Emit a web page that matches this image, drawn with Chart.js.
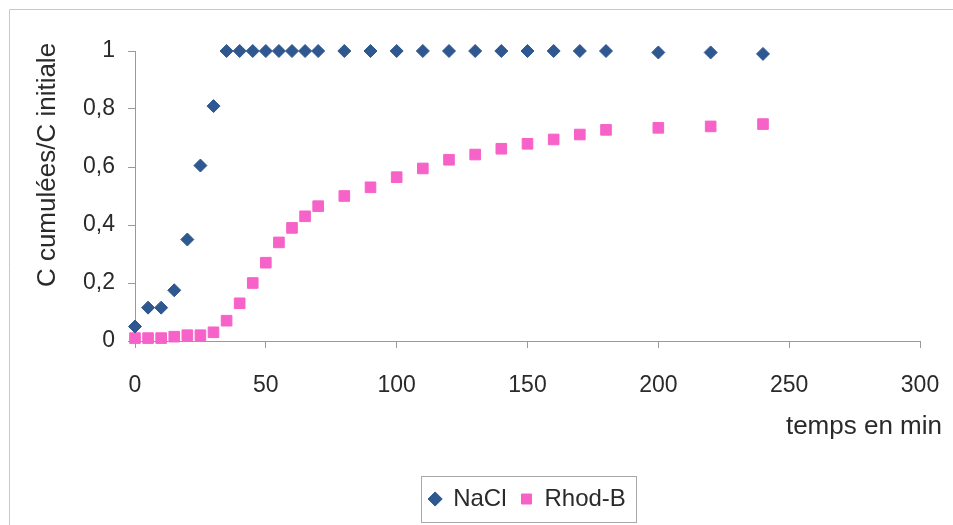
<!DOCTYPE html>
<html>
<head>
<meta charset="utf-8">
<script src="https://cdn.jsdelivr.net/npm/chart.js@4"></script>
<style>
    body { margin: 0; background: #fff; }
    #wrap { width: 953px; height: 525px; position: relative; }
</style>
</head>
<body>
<div id="wrap"><canvas id="chart" width="953" height="525"></canvas></div>
<script>
// temps en min
const tempsNaCl = [0, 5, 10, 15, 20, 25, 30, 35, 40, 45, 50, 55, 60, 65, 70, 80, 90, 100, 110, 120, 130, 140, 150, 160, 170, 180, 200, 220, 240];
const valeursNaCl = [0.05, 0.115, 0.115, 0.175, 0.35, 0.605, 0.81, 1, 1, 1, 1, 1, 1, 1, 1, 1, 1, 1, 1, 1, 1, 1, 1, 1, 1, 1, 0.995, 0.995, 0.99];
const tempsRhod = [0, 5, 10, 15, 20, 25, 30, 35, 40, 45, 50, 55, 60, 65, 70, 80, 90, 100, 110, 120, 130, 140, 150, 160, 170, 180, 200, 220, 240];
const valeursRhod = [0.01, 0.01, 0.01, 0.015, 0.02, 0.02, 0.03, 0.07, 0.13, 0.2, 0.27, 0.34, 0.39, 0.43, 0.465, 0.5, 0.53, 0.565, 0.595, 0.625, 0.643, 0.663, 0.68, 0.695, 0.712, 0.728, 0.735, 0.74, 0.748];
const xTicks = [0, 50, 100, 150, 200, 250, 300];
const yTicks = [0, 0.2, 0.4, 0.6, 0.8, 1];

const police = "'Liberation Sans', Arial, sans-serif";
const couleurTexte = '#2a2a2a';

function points(xs, ys) {
    let pts = [];
    for (let i = 0; i < xs.length; i++)
        pts.push({x: xs[i], y: ys[i]});
    return pts;
}

const habillage = {
    id: 'habillage',
    afterDraw(chart) {
        const ctx = chart.ctx;
        ctx.save();
        // cadre du graphique
        ctx.strokeStyle = '#c8c8c8';
        ctx.lineWidth = 1;
        ctx.beginPath();
        ctx.moveTo(9.5, 525);
        ctx.lineTo(9.5, 9.5);
        ctx.lineTo(953, 9.5);
        ctx.stroke();
        // titres des axes
        ctx.fillStyle = couleurTexte;
        ctx.font = '26px ' + police;
        ctx.textAlign = 'right';
        ctx.textBaseline = 'middle';
        ctx.fillText('temps en min', 942, 427);
        ctx.translate(48, 165);
        ctx.rotate(-Math.PI / 2);
        ctx.textAlign = 'center';
        ctx.fillText('C cumulées/C initiale', 0, 0);
        ctx.restore();
        // cadre de la légende
        const boxes = chart.legend.legendHitBoxes;
        if (boxes && boxes.length) {
            let l = Infinity, r = -Infinity, t = Infinity, b = -Infinity;
            boxes.forEach(h => {
                l = Math.min(l, h.left); r = Math.max(r, h.left + h.width);
                t = Math.min(t, h.top); b = Math.max(b, h.top + h.height);
            });
            ctx.save();
            ctx.strokeStyle = '#a8a8a8';
            ctx.lineWidth = 1;
            ctx.strokeRect(Math.round(l - 8) + 0.5, Math.round(t - 11) + 0.5, Math.round(r - l + 18), Math.round(b - t + 22));
            ctx.restore();
        }
    }
};

const data = {
    datasets: [{
            label: 'NaCl',
            data: points(tempsNaCl, valeursNaCl),
            pointStyle: 'rectRot',
            pointRadius: 6.5,
            backgroundColor: '#2f5890',
            borderColor: '#2f5890',
            borderWidth: 1,
            clip: false
        }, {
            label: 'Rhod-B',
            data: points(tempsRhod, valeursRhod),
            pointStyle: 'rect',
            pointRadius: 7.5,
            backgroundColor: '#f762c9',
            borderColor: '#f762c9',
            borderWidth: 1,
            clip: false
        }]
};

const config = {
    type: 'scatter',
    data: data,
    plugins: [habillage],
    options: {
        responsive: false,
        animation: false,
        layout: { padding: { left: 10, top: 51, right: 33, bottom: 4 } },
        scales: {
            x: {
                min: 0, max: 300,
                afterBuildTicks: s => { s.ticks = xTicks.map(v => ({value: v})); },
                afterFit: s => { s.height = 132; s.paddingLeft = 19; s.paddingRight = 19; },
                grid: { display: true, drawOnChartArea: false, drawTicks: true, tickLength: 7, color: '#9a9a9a' },
                border: { display: true, color: '#9a9a9a' },
                ticks: { color: couleurTexte, font: { family: police, size: 23 }, padding: 24, maxRotation: 0 }
            },
            y: {
                min: 0, max: 1,
                afterBuildTicks: s => { s.ticks = yTicks.map(v => ({value: v})); },
                afterFit: s => { s.width = 125; },
                grid: { display: true, drawOnChartArea: false, drawTicks: true, tickLength: 7, color: '#9a9a9a' },
                border: { display: true, color: '#9a9a9a' },
                ticks: {
                    color: couleurTexte, font: { family: police, size: 23 }, padding: 13,
                    callback: v => String(Math.round(v * 10) / 10).replace('.', ',')
                }
            }
        },
        plugins: {
            tooltip: { enabled: false },
            legend: {
                position: 'bottom',
                fullSize: false,
                labels: {
                    usePointStyle: true,
                    boxHeight: 10,
                    boxWidth: 12,
                    padding: 14,
                    color: couleurTexte,
                    font: { family: police, size: 24 }
                }
            }
        }
    }
};

let ctx = document.getElementById('chart').getContext('2d');
new Chart(ctx, config);
</script>
</body>
</html>
